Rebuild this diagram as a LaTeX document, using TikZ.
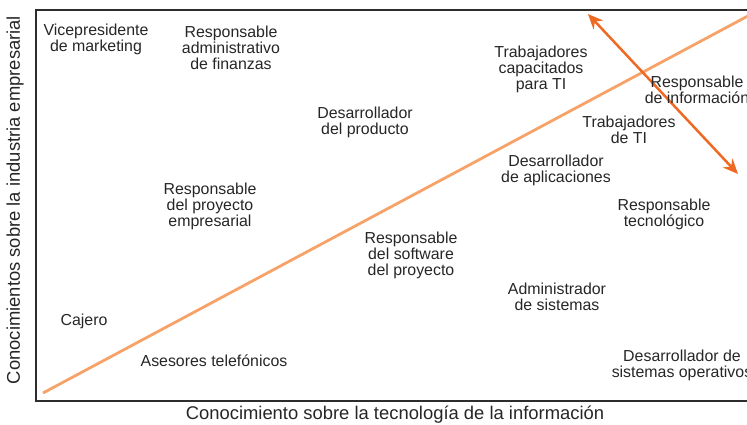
\documentclass[tikz,border=0pt]{standalone}
\usepackage{fontspec}
\setmainfont{Liberation Sans}
\usetikzlibrary{arrows.meta}
\definecolor{lightorange}{RGB}{247,162,104}
\definecolor{darkorange}{RGB}{238,106,36}
\definecolor{framegray}{RGB}{45,45,45}
\begin{document}
\begin{tikzpicture}[x=1pt,y=-1pt,
  role/.style={align=center,inner sep=0pt,font=\fontsize{15.9}{15.9}\selectfont,text=black!85},
  axislabel/.style={inner sep=0pt,font=\fontsize{18.4}{20}\selectfont,text=black!85}]
\useasboundingbox (0,0) rectangle (747,425);
\draw[framegray,line width=1.3pt] (760,10) -- (36,10) -- (36,401) -- (760,401);
\coordinate (lineA) at (43,393);
\coordinate (lineB) at (760,9.5);
\draw[lightorange,line width=2.8pt] (lineA) -- (lineB);
\coordinate (arrA) at (588,14);
\coordinate (arrB) at (738,174);
\draw[darkorange,line width=2.5pt,{Stealth[length=15pt,width=13pt]}-{Stealth[length=15pt,width=13pt]}] (arrA) -- (arrB);
\node[role] (vp) at (96,39.5) {Vicepresidente\\de marketing};
\node[role] (adm) at (231,47.5) {Responsable\\administrativo\\de finanzas};
\node[role] (trabcap) at (541,69.5) {Trabajadores\\capacitados\\para TI};
\node[role] (info) at (697,89.5) {Responsable\\de información};
\node[role] (prod) at (365,122) {Desarrollador\\del producto};
\node[role] (trabti) at (629,129.5) {Trabajadores\\de TI};
\node[role] (aplic) at (556,170) {Desarrollador\\de aplicaciones};
\node[role] (emp) at (210,206.5) {Responsable\\del proyecto\\empresarial};
\node[role] (tec) at (664,214.5) {Responsable\\tecnológico};
\node[role] (soft) at (411,255.5) {Responsable\\del software\\del proyecto};
\node[role] (sist) at (557,296.5) {Administrador\\de sistemas};
\node[role] (caj) at (84,321) {Cajero};
\node[role] (ases) at (214,361) {Asesores telefónicos};
\node[role] (so) at (682,365.5) {Desarrollador de\\sistemas operativos};
\node[axislabel] (xlab) at (395,414.5) {Conocimiento sobre la tecnología de la información};
\node[axislabel,rotate=90] (ylab) at (15,200) {Conocimientos sobre la industria empresarial};
\end{tikzpicture}
\end{document}
